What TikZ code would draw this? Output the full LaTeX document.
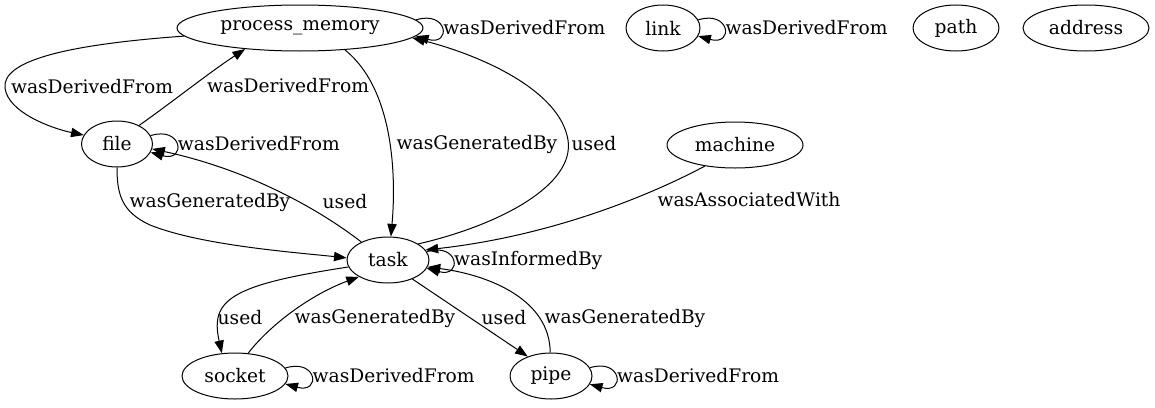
\documentclass[tikz,border=0pt]{standalone}
\usepackage{fontspec}
\setmainfont{DejaVu Serif}
\usetikzlibrary{arrows.meta,shapes.geometric}
\tikzset{
  etat/.style={ellipse, draw, line width=0.75pt, inner sep=0pt, minimum height=34.5pt,
               minimum width=#1, font=\fontsize{14}{16}\selectfont},
  arr/.style={-{Triangle[length=9.5pt,width=7pt]}, line width=0.75pt},
  lbl/.style={font=\fontsize{14}{16}\selectfont, inner sep=1pt},
}
% boucle a droite d'un noeud : nom, angle de depart, etiquette
\newcommand{\selfloop}[3]{\draw[arr] (#1.#2) .. controls +(32,-10) and +(36,10) .. (#1.-#2)
  node[lbl, pos=0.5, right] {#3};}

\begin{document}
\begin{tikzpicture}[x=0.75pt, y=-0.75pt]
    \useasboundingbox (0,0) rectangle (1155,407);
    \node[etat=184.5pt] (pm) at (300,28) {process\_memory};
    \node[etat=55.5pt] (link) at (663,28) {link};
    \node[etat=64.5pt] (path) at (956,28) {path};
    \node[etat=94.5pt] (addr) at (1086,28) {address};
    \node[etat=53.25pt] (file) at (117,144) {file};
    \node[etat=102pt] (mach) at (735,145) {machine};
    \node[etat=61.5pt] (task) at (388,260) {task};
    \node[etat=79.5pt] (sock) at (235,376) {socket};
    \node[etat=61.5pt] (pipe) at (551,376) {pipe};

    \selfloop{pm}{4}{wasDerivedFrom}
    \selfloop{link}{13}{wasDerivedFrom}
    \selfloop{file}{14}{wasDerivedFrom}
    \selfloop{task}{12}{wasInformedBy}
    \selfloop{sock}{9}{wasDerivedFrom}
    \selfloop{pipe}{12}{wasDerivedFrom}

    \draw[arr] (pm.184) .. controls (60,45) and (2,62) .. (5,88)
      .. controls (8,112) and (50,128) .. (file.165)
      node[lbl] at (92,87) {wasDerivedFrom};
    \draw[arr] (file.40) .. controls (175,100) and (210,72) .. (pm.201)
      node[lbl] at (288,86) {wasDerivedFrom};
    \draw[arr] (pm.334) .. controls (395,90) and (396,180) .. (task.83)
      node[lbl] at (477,144) {wasGeneratedBy};
    \draw[arr] (task.28) .. controls (500,225) and (575,185) .. (568,140)
      .. controls (560,90) and (480,55) .. (pm.355)
      node[lbl] at (594,144) {used};
    \draw[arr] (file.270) .. controls (117,195) and (122,212) .. (150,225)
      .. controls (200,245) and (290,252) .. (task.177)
      node[lbl] at (210,202) {wasGeneratedBy};
    \draw[arr] (task.146) .. controls (320,210) and (250,170) .. (file.-8)
      node[lbl] at (345,202) {used};
    \draw[arr] (mach.215) .. controls (660,190) and (560,235) .. (task.15)
      node[lbl] at (749,200) {wasAssociatedWith};
    \draw[arr] (task.190) .. controls (230,285) and (210,300) .. (sock.120)
      node[lbl] at (240,318) {used};
    \draw[arr] (sock.60) .. controls (270,325) and (310,295) .. (task.210)
      node[lbl] at (375,318) {wasGeneratedBy};
    \draw[arr] (task.-38) -- (pipe.140)
      node[lbl] at (504,318) {used};
    \draw[arr] (pipe.92) .. controls (550,300) and (490,275) .. (task.-10)
      node[lbl] at (625,318) {wasGeneratedBy};
\end{tikzpicture}
\end{document}
